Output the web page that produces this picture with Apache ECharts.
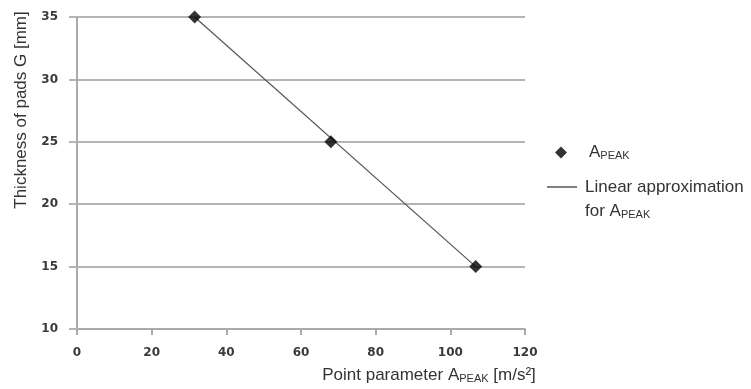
<!DOCTYPE html>
<html>
<head>
<meta charset="utf-8">
<script src="https://cdn.jsdelivr.net/npm/echarts@6/dist/echarts.min.js"></script>
<style>
  html, body { margin: 0; padding: 0; background: #fff; }
  #chart { width: 751px; height: 389px; }
</style>
</head>
<body>
<div id="chart"></div>
<script>
// measured points (A_PEAK vs pad thickness)
const aPeak = [31.5, 68, 106.8];
const thickness = [35, 25, 15];
// linear approximation end points
const fitX = [31.5, 106.8];
const fitY = [35, 15];

const xTicks = { min: 0, max: 120, interval: 20 };
const yTicks = { min: 10, max: 35, interval: 5 };

const FONT = 'Liberation Sans, Arial, sans-serif';
const subRich = {
  sub: { fontSize: 11, verticalAlign: 'middle', color: '#333', fontFamily: FONT, padding: [7, 0, 0, 0] }
};

const myChart = echarts.init(document.getElementById('chart'));
myChart.setOption({
  animation: false,
  textStyle: { fontFamily: FONT },
  grid: { left: 77, top: 17, right: 226, bottom: 59 },
  xAxis: {
    type: 'value',
    min: xTicks.min, max: xTicks.max, interval: xTicks.interval,
    name: 'Point parameter A{sub|PEAK} [m/s²]',
    nameLocation: 'middle',
    nameGap: 37,
    nameTextStyle: { fontSize: 17, color: '#333', fontFamily: FONT, padding: [0, 0, 0, 256], rich: subRich },
    axisLine: { lineStyle: { color: '#aaa', width: 2 } },
    axisTick: { show: true, length: 6, lineStyle: { color: '#aaa', width: 2 } },
    axisLabel: { margin: 18, fontSize: 12, fontWeight: 'bold', color: '#3a3a3a', fontFamily: 'DejaVu Sans' },
    splitLine: { show: false }
  },
  yAxis: {
    type: 'value',
    min: yTicks.min, max: yTicks.max, interval: yTicks.interval,
    name: 'Thickness of pads G [mm]',
    nameLocation: 'middle',
    nameGap: 47,
    nameTextStyle: { fontSize: 17, color: '#333', fontFamily: FONT, padding: [0, 0, 0, 126] },
    axisLine: { show: true, lineStyle: { color: '#aaa', width: 2 } },
    axisTick: { show: true, length: 8, lineStyle: { color: '#b4b4b4', width: 2 } },
    axisLabel: { margin: 19, fontSize: 12, fontWeight: 'bold', color: '#3a3a3a', fontFamily: 'DejaVu Sans' },
    splitLine: { lineStyle: { color: '#b4b4b4', width: 2 } }
  },
  legend: [
    {
      left: 550, top: 139, orient: 'vertical',
      itemWidth: 12, itemHeight: 12,
      data: [{ name: 'A_PEAK', icon: 'diamond', itemStyle: { color: '#000' } }],
      formatter: () => 'A{sub|PEAK}',
      textStyle: { fontSize: 17, color: '#333', fontFamily: FONT, padding: [0, 0, 0, 17], rich: subRich }
    },
    {
      left: 542, top: 146, orient: 'vertical',
      itemWidth: 30, itemHeight: 1.5,
      data: [{ name: 'Linear approximation', icon: 'rect', itemStyle: { color: '#555' } }],
      formatter: () => 'Linear approximation\nfor A{sub|PEAK}',
      textStyle: { fontSize: 17, color: '#333', fontFamily: FONT, lineHeight: 24, padding: [24, 0, 0, 3], rich: subRich }
    }
  ],
  series: [
    {
      name: 'Linear approximation',
      type: 'line',
      data: fitX.map((x, i) => [x, fitY[i]]),
      symbol: 'none',
      lineStyle: { color: '#555', width: 1.2 },
      itemStyle: { color: '#555' },
      z: 2
    },
    {
      name: 'A_PEAK',
      type: 'scatter',
      data: aPeak.map((x, i) => [x, thickness[i]]),
      symbol: 'diamond',
      symbolSize: 13,
      itemStyle: { color: '#000' },
      z: 3
    }
  ]
});
</script>
</body>
</html>
